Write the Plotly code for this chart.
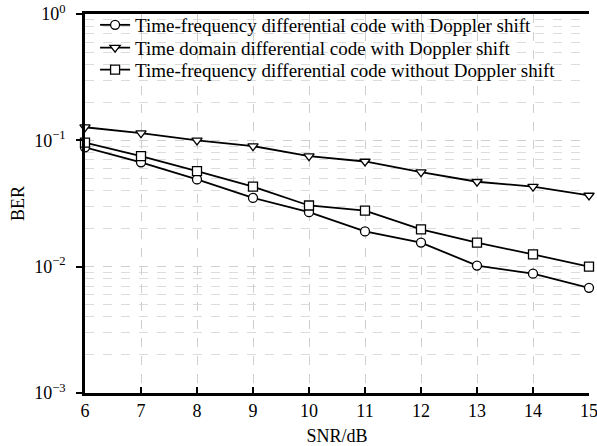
import plotly.graph_objects as go

snr = [6, 7, 8, 9, 10, 11, 12, 13, 14, 15]
ber_tf_doppler = [0.088, 0.067, 0.049, 0.035, 0.027, 0.019, 0.0155, 0.0102, 0.0088, 0.0068]
ber_td_doppler = [0.127, 0.114, 0.100, 0.090, 0.075, 0.068, 0.056, 0.047, 0.043, 0.0366]
ber_tf_nodoppler = [0.096, 0.075, 0.057, 0.043, 0.0305, 0.0278, 0.0197, 0.0155, 0.0125, 0.0100]

names = ["Time-frequency differential code with Doppler shift",
         "Time domain differential code with Doppler shift",
         "Time-frequency differential code without Doppler shift"]
symbols = ["circle", "triangle-down", "square"]
series = [ber_tf_doppler, ber_td_doppler, ber_tf_nodoppler]
legend_ids = ["legend", "legend2", "legend3"]
legend_y = [0.971, 0.911, 0.853]

y_tickvals = [1e-3, 1e-2, 1e-1, 1]
y_ticktext = ["10<sup>\u22123</sup>", "10<sup>\u22122</sup>", "10<sup>\u22121</sup>", "10<sup>0</sup>"]
minor_vals = [m * 10 ** e for e in (-3, -2, -1) for m in range(2, 10)]

font = "Liberation Serif, Times New Roman, serif"

fig = go.Figure()
for nm, sym, ys, lg in zip(names, symbols, series, legend_ids):
    fig.add_trace(go.Scatter(
        x=snr, y=ys, name=nm, mode="lines+markers", cliponaxis=False,
        legend=lg,
        line=dict(color="black", width=1.8),
        marker=dict(symbol=sym, size=9, color="white",
                    line=dict(color="black", width=1.3)),
    ))

legend_common = dict(x=0.02, xanchor="left", yanchor="middle",
                     bgcolor="rgba(0,0,0,0)", borderwidth=0,
                     font=dict(family=font, size=19, color="black"),
                     itemwidth=30, tracegroupgap=0)

fig.update_layout(
    width=597, height=446,
    margin=dict(l=85, r=8, t=14, b=53, autoexpand=False),
    paper_bgcolor="white", plot_bgcolor="white",
    font=dict(family=font, size=18, color="black"),
    showlegend=True,
    legend=dict(y=legend_y[0], **legend_common),
    legend2=dict(y=legend_y[1], **legend_common),
    legend3=dict(y=legend_y[2], **legend_common),
    xaxis=dict(
        range=[6, 15], tickvals=snr, ticktext=[str(v) for v in snr],
        showline=True, linecolor="black", linewidth=2.5, mirror=True,
        ticks="inside", ticklen=6, tickcolor="black", tickwidth=1.5,
        showgrid=True, gridcolor="#cfcfcf", griddash="dash", gridwidth=1,
        zeroline=False, automargin=False, ticklabeloverflow="allow",
        title=dict(text="SNR/dB", standoff=10, font=dict(family=font, size=18)),
        tickfont=dict(family=font, size=18),
    ),
    yaxis=dict(
        type="log", range=[-3, 0], tickvals=y_tickvals, ticktext=y_ticktext,
        showline=True, linecolor="black", linewidth=2.5,
        ticks="outside", ticklen=6, tickcolor="black", tickwidth=1.5,
        ticklabelstandoff=7,
        showgrid=True, gridcolor="#cfcfcf", griddash="dash", gridwidth=1,
        minor=dict(tickvals=minor_vals, showgrid=True, gridcolor="#dcdcdc",
                   griddash="dash", gridwidth=1, ticks=""),
        zeroline=False, automargin=False, ticklabeloverflow="allow",
        title=dict(text="BER", standoff=5, font=dict(family=font, size=18)),
        tickfont=dict(family=font, size=18),
    ),
)

fig.write_html(
    "out.html",
    config={"displayModeBar": False},
    post_script="document.body.style.margin='0';document.body.style.overflow='hidden';",
)
